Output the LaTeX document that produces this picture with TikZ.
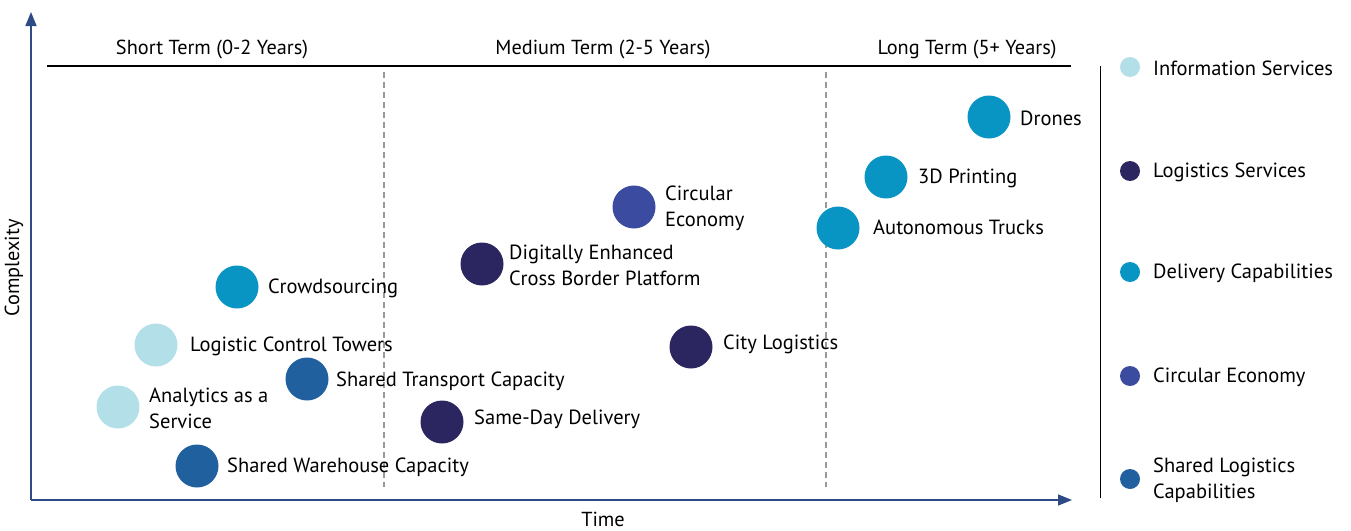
\documentclass[tikz,border=0pt]{standalone}
\usepackage{fontspec}
\setmainfont{PT Sans}
\usetikzlibrary{arrows.meta}
\definecolor{infoc}{HTML}{B3DFE8}
\definecolor{logc}{HTML}{2B2560}
\definecolor{delc}{HTML}{0995C4}
\definecolor{circc}{HTML}{3A4BA0}
\definecolor{sharec}{HTML}{21609E}
\definecolor{axisc}{HTML}{2E4A87}
\begin{document}
\begin{tikzpicture}[x=1pt,y=-1pt,
  bub/.style={circle,inner sep=0pt,minimum size=43pt},
  ldot/.style={circle,inner sep=0pt,minimum size=20pt},
  lab/.style={anchor=west,inner sep=0pt,font=\fontsize{20.5}{26}\selectfont,align=left},
  hdr/.style={inner sep=0pt,font=\fontsize{20.3}{24}\selectfont},
  axis/.style={draw=axisc,line width=1.5pt,-{Triangle[length=14pt,width=11pt]}},
  divider/.style={draw=gray!80,line width=1.2pt,dash pattern=on 6pt off 4pt}]
\useasboundingbox (0,0) rectangle (1351,530);
% axes
\coordinate (O) at (31,500);
\coordinate (ytop) at (31,12);
\coordinate (xend) at (1072,500);
\draw[axis] (O) -- (ytop);
\draw[axis] (O) -- (xend);
\node[hdr,rotate=90] (ylab) at (14,268) {Complexity};
\node[hdr,anchor=base] (xlab) at (603,526) {Time};
% header
\coordinate (h1) at (47,66);
\coordinate (h2) at (1071,66);
\draw[line width=1.2pt] (h1) -- (h2);
\node[hdr] (st) at (212,50) {Short Term (0-2 Years)};
\node[hdr] (mt) at (603,50) {Medium Term (2-5 Years)};
\node[hdr] (lt) at (967,50) {Long Term (5+ Years)};
\coordinate (d1a) at (384,72); \coordinate (d1b) at (384,487);
\coordinate (d2a) at (826,72); \coordinate (d2b) at (826,487);
\draw[divider] (d1a) -- (d1b);
\draw[divider] (d2a) -- (d2b);
% bubbles
\node[bub,fill=delc] (b1) at (989,117) {};
\node[lab] (l1) at (1020,118) {Drones};
\node[bub,fill=delc] (b2) at (886,177) {};
\node[lab] (l2) at (918,178) {3D Printing};
\node[bub,fill=delc] (b3) at (838,228) {};
\node[lab] (l3) at (873,227) {Autonomous Trucks};
\node[bub,fill=circc] (b4) at (634,207) {};
\node[lab] (l4) at (665,208) {Circular\\Economy};
\node[bub,fill=logc] (b5) at (482,264) {};
\node[lab] (l5) at (509,265) {Digitally Enhanced\\Cross Border Platform};
\node[bub,fill=delc] (b6) at (237,287) {};
\node[lab] (l6) at (268,288) {Crowdsourcing};
\node[bub,fill=logc] (b7) at (691,347) {};
\node[lab] (l7) at (723,344) {City Logistics};
\node[bub,fill=infoc] (b8) at (156,345) {};
\node[lab] (l8) at (190,346) {Logistic Control Towers};
\node[bub,fill=sharec] (b9) at (307,379) {};
\node[lab] (l9) at (336,381) {Shared Transport Capacity};
\node[bub,fill=infoc] (b10) at (118,407) {};
\node[lab] (l10) at (149,408) {Analytics as a\\Service};
\node[bub,fill=logc] (b11) at (442,422) {};
\node[lab] (l11) at (474,419) {Same-Day Delivery};
\node[bub,fill=sharec] (b12) at (197,466) {};
\node[lab] (l12) at (227,467) {Shared Warehouse Capacity};
% legend
\coordinate (lg1) at (1100,66);
\coordinate (lg2) at (1100,498);
\draw[line width=1pt] (lg1) -- (lg2);
\node[ldot,fill=infoc] (g1) at (1130,67) {};
\node[lab] (gl1) at (1153,68) {Information Services};
\node[ldot,fill=logc] (g2) at (1130,171) {};
\node[lab] (gl2) at (1153,172) {Logistics Services};
\node[ldot,fill=delc] (g3) at (1130,272) {};
\node[lab] (gl3) at (1153,273) {Delivery Capabilities};
\node[ldot,fill=circc] (g4) at (1130,376) {};
\node[lab] (gl4) at (1153,377) {Circular Economy};
\node[ldot,fill=sharec] (g5) at (1130,479) {};
\node[lab] (gl5) at (1153,480) {Shared Logistics\\Capabilities};
\end{tikzpicture}
\end{document}
